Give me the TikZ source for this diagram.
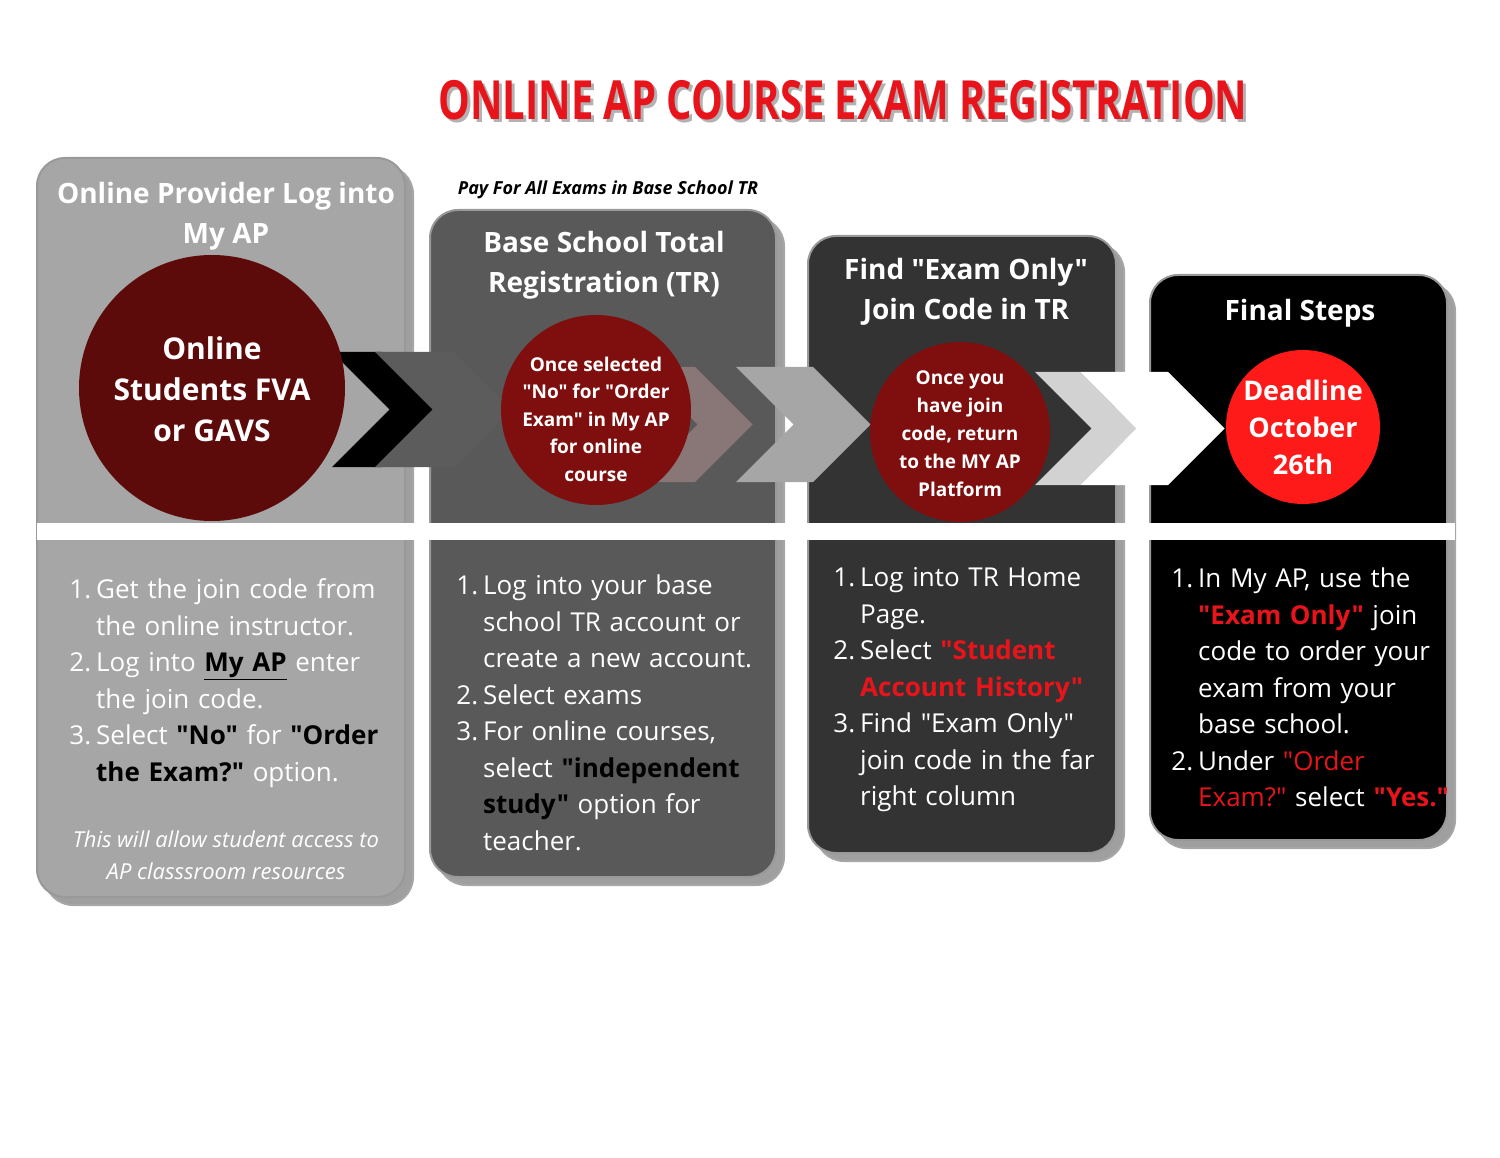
\documentclass[tikz,border=0pt]{standalone}
\usepackage{fontspec}
\setmainfont{Open Sans}[Ligatures=TeXOff]
\usepackage{enumitem}
\usetikzlibrary{positioning}
\definecolor{apred}{HTML}{E8141B}
\definecolor{circA}{HTML}{5C0A0A}
\definecolor{circB}{HTML}{7F0F0F}
\definecolor{circD}{HTML}{FF1A1A}
\definecolor{panA}{HTML}{A6A6A6}
\definecolor{panB}{HTML}{595959}
\definecolor{panC}{HTML}{333333}
\newcommand{\chev}[5]{% color, x0, y top, length, height
	\fill[#1] (#2,#3) -- ++(#4,0) -- ++(#5/2,#5/2) -- ++(-#5/2,#5/2) -- ++(-#4,0) -- ++(#5/2,-#5/2) -- cycle;
}
\newcommand{\panel}[5]{% fill, x1, y1, x2, y2
	\draw[line width=2pt,draw=gray!70,fill=gray!75,rounded corners=28pt] (#2+8,#3+8) rectangle (#4+8,#5+8);
	\draw[line width=2pt,draw=gray!80,fill=#1,rounded corners=28pt] (#2,#3) rectangle (#4,#5);
}
\begin{document}
\begin{tikzpicture}[x=1pt,y=-1pt,
		head/.style={font=\bfseries\fontsize{28}{40}\selectfont,white,align=center},
		circtxt/.style={font=\bfseries,white,align=center},
		steps/.style={font=\fontsize{26}{36.5}\selectfont,white,anchor=north west,inner sep=0pt}]
	\useasboundingbox (0,0) rectangle (1500,1158);

	% Title
	\node[font=\bfseries\fontsize{54}{60}\selectfont,gray!60,xscale=0.74] at (846,103) {ONLINE AP COURSE EXAM REGISTRATION};
	\node[font=\bfseries\fontsize{54}{60}\selectfont,apred,xscale=0.74] (title) at (843,100) {ONLINE AP COURSE EXAM REGISTRATION};

	% Panels
	\panel{panA}{37}{158}{405}{897}
	\panel{panB}{430}{210}{776}{877}
	\panel{panC}{808}{236}{1116}{853}
	\panel{black}{1150}{275}{1447}{840}

	% Band
	\fill[white] (37,523) rectangle (1455,540);

	% Chevrons
	\chev{black}{332}{352}{50}{115}
	\chev{panC!80}{375}{352}{79}{115}
	\chev{gray!85!red!50!gray}{640}{367}{55}{115}
	\chev{panA}{736}{367}{77}{115}
	\chev{gray!35}{1035}{372}{45}{113}
	\chev{white}{1080}{372}{88}{113}

	% Circles
	\fill[circA] (212,388) circle (133);
	\fill[circB] (596,410) circle (95);
	\fill[circB] (960,432) circle (90);
	\fill[circD] (1303,427) circle (77);

	% Headings
	\node[head] (hA) at (226,216) {Online Provider Log into\\My AP};
	\node[head] (hB) at (604,265) {Base School Total\\Registration (TR)};
	\node[head] (hC) at (966,292) {Find "Exam Only"\\Join Code in TR};
	\node[head] (hD) at (1300,313) {Final Steps};
	\node[font=\bfseries\itshape\fontsize{18}{22}\selectfont] (pay) at (608,190) {Pay For All Exams in Base School TR};

	% Circle texts
	\node[circtxt,font=\bfseries\fontsize{30}{41}\selectfont] (cA) at (212,389) {Online\\Students FVA\\or GAVS};
	\node[circtxt,font=\bfseries\fontsize{19}{27.5}\selectfont] (cB) at (596,419) {Once selected\\"No" for "Order\\Exam" in My AP\\for online\\course};
	\node[circtxt,font=\bfseries\fontsize{19}{28}\selectfont] (cC) at (960,434) {Once you\\have join\\code, return\\to the MY AP\\Platform};
	\node[circtxt,font=\bfseries\fontsize{27}{37}\selectfont] (cD) at (1303,427) {Deadline\\October\\26th};

	% Steps
	\node[steps,text width=325pt] (sA) at (68,562) {\begin{enumerate}[leftmargin=28pt,itemsep=0pt,topsep=0pt,parsep=0pt]
		\item Get the join code from the online instructor.
		\item Log into \textcolor{black}{\bfseries\underline{My AP}} enter the join code.
		\item Select \textcolor{black}{\bfseries "No"} for \textcolor{black}{\bfseries "Order the Exam?"} option.
	\end{enumerate}};
	\node[font=\itshape\fontsize{22}{32}\selectfont,white,align=center] (noteA) at (226,855) {This will allow student access to\\AP classsroom resources};
	\node[steps,text width=300pt] (sB) at (455,558) {\begin{enumerate}[leftmargin=28pt,itemsep=0pt,topsep=0pt,parsep=0pt]
		\item Log into your base school TR account or create a new account.
		\item Select exams
		\item For online courses, select \textcolor{black}{\bfseries "independent study"} option for teacher.
	\end{enumerate}};
	\node[steps,text width=270pt] (sC) at (832,550) {\begin{enumerate}[leftmargin=28pt,itemsep=0pt,topsep=0pt,parsep=0pt]
		\item Log into TR Home Page.
		\item Select \textcolor{apred}{\bfseries "Student Account History"}
		\item Find "Exam Only" join code in the far right column
	\end{enumerate}};
	\node[steps,text width=284pt] (sD) at (1170,551) {\begin{enumerate}[leftmargin=28pt,itemsep=0pt,topsep=0pt,parsep=0pt]
		\item In My AP, use the \textcolor{apred}{\bfseries "Exam Only"} join code to order your exam from your base school.
		\item Under \textcolor{apred}{"Order Exam?"} select \textcolor{apred}{\bfseries "Yes."}
	\end{enumerate}};
\end{tikzpicture}
\end{document}
